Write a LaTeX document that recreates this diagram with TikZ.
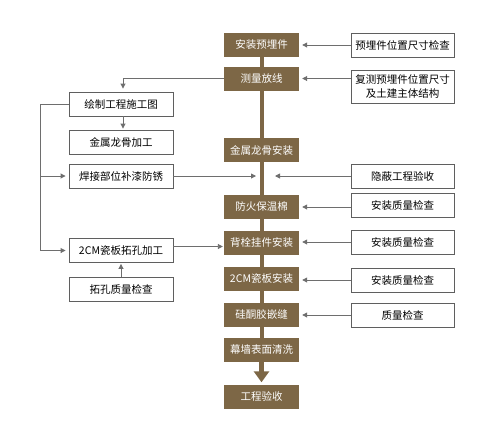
\documentclass[tikz,border=0pt]{standalone}
\usepackage{fontspec}
\newfontfamily\cjk{Noto Sans CJK SC}
\usetikzlibrary{arrows.meta,calc}
\definecolor{brownbox}{RGB}{125,103,70}
\definecolor{linegray}{RGB}{110,110,110}
\definecolor{boxgray}{RGB}{95,95,95}
\tikzset{
  mainstep/.style={fill=brownbox,draw=none,text=white,minimum width=75pt,minimum height=24pt,inner sep=0pt,font=\cjk\fontsize{10.5}{13}\selectfont},
  sidebox/.style={fill=white,draw=boxgray,line width=0.9pt,text=black,minimum width=103pt,minimum height=24pt,inner sep=0pt,align=center,font=\cjk\fontsize{10.5}{14}\selectfont},
  arr/.style={draw=linegray,line width=0.9pt,-{Triangle[length=5pt,width=5pt]},shorten >=3pt},
  ln/.style={draw=linegray,line width=0.9pt},
  trunk/.style={draw=brownbox,line width=4.5pt}
}
\begin{document}
\begin{tikzpicture}[x=1pt,y=-1pt]
\useasboundingbox (0,0) rectangle (500,440);
% trunk
\coordinate (t) at (262,176);
\draw[trunk] (262,57) -- (262,362);
% main boxes
\node[mainstep] (b1) at (261.5,45) {安装预埋件};
\node[mainstep] (b2) at (261.5,78.5) {测量放线};
\node[mainstep] (b3) at (261.5,150) {金属龙骨安装};
\node[mainstep] (b4) at (261.5,207) {防火保温棉};
\node[mainstep] (b5) at (261.5,242.5) {背栓挂件安装};
\node[mainstep] (b6) at (261.5,279) {2CM瓷板安装};
\node[mainstep] (b7) at (261.5,314.5) {硅酮胶嵌缝};
\node[mainstep] (b8) at (261.5,350) {幕墙表面清洗};
\node[mainstep] (b9) at (261.5,396.5) {工程验收};
\draw[draw=brownbox,line width=4.5pt,-{Triangle[length=11pt,width=15pt]},shorten >=2pt] (b8.south) -- (b9.north);
% right boxes
\node[sidebox] (r1) at (402.5,45) {预埋件位置尺寸检查};
\node[sidebox,minimum height=33pt] (r2) at (402.5,86.5) {复测预埋件位置尺寸\\及土建主体结构};
\node[sidebox] (r3) at (402.5,176) {隐蔽工程验收};
\node[sidebox] (r4) at (402.5,205) {安装质量检查};
\node[sidebox] (r5) at (402.5,242) {安装质量检查};
\node[sidebox] (r6) at (402.5,280) {安装质量检查};
\node[sidebox] (r7) at (402.5,315) {质量检查};
% left boxes
\node[sidebox,minimum width=104pt] (l1) at (121,104) {绘制工程施工图};
\node[sidebox,minimum width=104pt] (l2) at (121,142) {金属龙骨加工};
\node[sidebox,minimum width=104pt] (l3) at (121,176) {焊接部位补漆防锈};
\node[sidebox,minimum width=104pt] (l4) at (121,250.5) {2CM瓷板拓孔加工};
\node[sidebox,minimum width=104pt] (l5) at (121,289) {拓孔质量检查};
% right arrows
\draw[arr] (r1.west) -- (r1.west -| b1.east);
\draw[arr] (b2.east -| r2.west) -- (b2.east);
\draw[arr,shorten >=13pt] (r3.west) -- (t);
\draw[arr] (r4.west |- b4.east) -- (b4.east);
\draw[arr] (r5.west) -- (r5.west -| b5.east);
\draw[arr] (r6.west) -- (r6.west -| b6.east);
\draw[arr] (r7.west) -- (r7.west -| b7.east);
% left side
\coordinate (lx) at (40,176);
\draw[arr] (b2.west) -| ([xshift=2pt]l1.north);
\draw[arr,shorten >=1pt] ([xshift=2pt]l1.south) -- ([xshift=2pt]l2.north);
\draw[ln] (l1.west) -- (l1.west -| lx) -- (lx);
\draw[arr] (lx) |- (l4.west);
\draw[arr] (lx) -- (l3.west);
\draw[arr,shorten >=6pt] (l3.east) -- (t);
\draw[arr,shorten >=1pt] ([yshift=4pt]l4.east) -- ([yshift=4pt]l4.east -| b5.west);
\draw[arr,shorten >=1pt] (l5.north) -- (l4.south);
\end{tikzpicture}
\end{document}
